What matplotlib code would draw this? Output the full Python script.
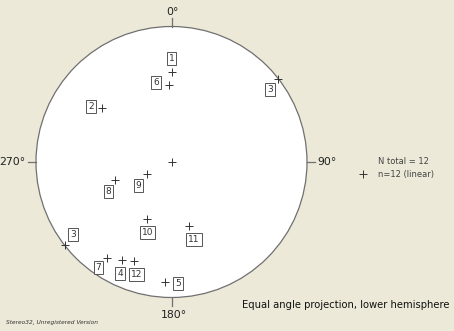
import numpy as np
import matplotlib
matplotlib.use("Agg")
import matplotlib.pyplot as plt

# Lineation data (trend, plunge in degrees)
labels = ["1", "2", "3", "4", "5", "6", "7", "8", "9", "10", "11", "12"]
trend = [0, 308, 52, 207, 183, 358, 214, 252, 244, 203, 165, 201]
plunge = [23, 24, 0, 12, 7, 31, 9, 43, 67, 41, 38, 14]

# label offsets in points (style)
label_off = {"1": (0, 10), "2": (-8, 1), "3": (-6, -8), "3b": (6, 8), "4": (-1, -10),
             "5": (9, -1), "6": (-9, 2), "7": (-6, -7), "8": (-5, -8), "9": (-6, -8),
             "10": (0, -10), "11": (4, -10), "12": (2, -10)}

BG = "#ECE9D8"
fig = plt.figure(figsize=(4.54, 3.31), dpi=100, facecolor=BG)
ax = fig.add_axes([0, 0, 1, 1])
ax.set_facecolor(BG)
R = 135.5
cx, cy = 171.5, 162
ax.set_xlim(-cx / R, (454 - cx) / R)
ax.set_ylim(-(331 - cy) / R, cy / R)
ax.set_aspect("equal")
ax.axis("off")

FONT = "DejaVu Sans"
circ = plt.Circle((0, 0), 1, facecolor="white", edgecolor="#707070", lw=0.9)
ax.add_patch(circ)

# ticks & labels
t = 0.06
ax.plot([0, 0], [1, 1 + t], color="#707070", lw=0.9)
ax.plot([0, 0], [-1, -1 - t], color="#707070", lw=0.9)
ax.plot([1, 1 + t], [0, 0], color="#707070", lw=0.9)
ax.plot([-1, -1 - t], [0, 0], color="#707070", lw=0.9)
ax.text(0.005, 1.11, "0°", ha="center", va="center", fontsize=7.8, family=FONT, color="#202020")
ax.text(0.015, -1.13, "180°", ha="center", va="center", fontsize=7.8, family=FONT, color="#202020")
ax.text(1.08, 0, "90°", ha="left", va="center", fontsize=7.8, family=FONT, color="#202020")
ax.text(-1.08, 0, "270°", ha="right", va="center", fontsize=7.8, family=FONT, color="#202020")

# center marker
ax.plot([0], [0], marker="+", ms=6, mew=0.7, color="#333333", ls="none")

tr = np.radians(trend)
rr = np.tan(np.radians(90 - np.array(plunge)) / 2)
xs = rr * np.sin(tr)
ys = rr * np.cos(tr)
ax.plot(xs, ys, marker="+", ms=6, mew=0.7, color="#333333", ls="none")

box = dict(boxstyle="square,pad=0.22", facecolor="white", edgecolor="#555555", lw=0.7)
for lab, x, y, p in zip(labels, xs, ys, plunge):
    ax.annotate(lab, (x, y), xytext=label_off[lab], textcoords="offset points",
                ha="center", va="center", fontsize=6.5, family=FONT, color="#333333", bbox=box)
    if p == 0:
        ax.plot([-x], [-y], marker="+", ms=6, mew=0.7, color="#333333", ls="none")
        ax.annotate(lab, (-x, -y), xytext=label_off[lab + "b"], textcoords="offset points",
                    ha="center", va="center", fontsize=6.5, family=FONT, color="#333333", bbox=box)

# legend
ax.text((377.7 - cx) / R, (cy - 162) / R, "N total = 12", ha="left", va="center",
        fontsize=6, family=FONT, color="#444444")
ax.text((377.7 - cx) / R, (cy - 174) / R, "n=12 (linear)", ha="left", va="center",
        fontsize=6, family=FONT, color="#444444")
ax.plot([(363.3 - cx) / R], [(cy - 174) / R], marker="+", ms=6, mew=0.7, color="#333333")

ax.text((450 - cx) / R, (cy - 305) / R, "Equal angle projection, lower hemisphere",
        ha="right", va="center", fontsize=7.2, family=FONT, color="#111111")
ax.text((6 - cx) / R, (cy - 322.5) / R, "Stereo32, Unregistered Version",
        ha="left", va="center", fontsize=4.2, family=FONT, style="italic", color="#333333")

fig.savefig("out.png", dpi=100, facecolor=BG)
